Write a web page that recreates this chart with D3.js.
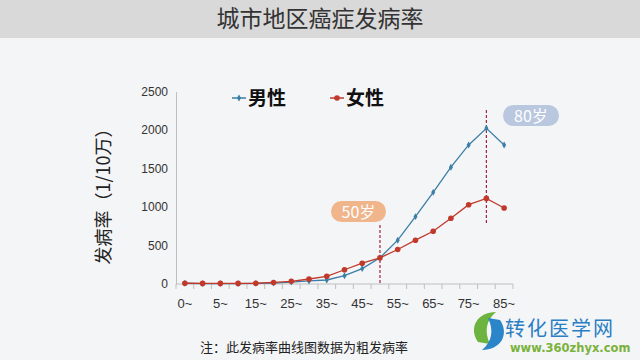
<!DOCTYPE html>
<html><head><meta charset="utf-8">
<script src="https://cdn.jsdelivr.net/npm/d3@7/dist/d3.min.js"></script>
<style>body{margin:0;background:#f4f5f7;}svg{display:block;font-family:"Noto Sans CJK SC","Noto Sans",sans-serif;}</style>
</head><body>
<script>
const categories = ["0~","1~","5~","10~","15~","20~","25~","30~","35~","40~","45~","50~","55~","60~","65~","70~","75~","80~","85~"];
const tickLabels = ["0~","5~","15~","25~","35~","45~","55~","65~","75~","85~"];
const maleValues = [10,5,5,5,8,12,25,40,52,108,200,340,569,875,1190,1517,1806,2022,1806];
const femaleValues = [10,8,8,8,10,20,35,65,100,185,270,340,448,569,685,853,1030,1112,987];
const yTicks = [0,500,1000,1500,2000,2500];

const W=640,H=360;
const svg=d3.select("body").append("svg").attr("width",W).attr("height",H);
svg.append("rect").attr("width",W).attr("height",H).attr("fill","#f4f5f7");
svg.append("rect").attr("width",W).attr("height",38).attr("fill","#d9d9d9");
svg.append("text").attr("x",320).attr("y",27).attr("text-anchor","middle").attr("font-size",23).attr("fill","#333").text("城市地区癌症发病率");

const x=d3.scaleBand().domain(categories).range([176,513]);
const y=d3.scaleLinear().domain([0,2500]).range([284,91.5]);
const cx=c=>x(c)+x.bandwidth()/2;

// y axis
const ya=svg.append("g").attr("transform","translate(176,0)").call(d3.axisLeft(y).tickValues(yTicks).tickFormat(d3.format("d")).tickSize(0).tickPadding(8));
ya.select(".domain").attr("stroke","#bfbfbf");
ya.selectAll("text").attr("font-size",12).attr("fill","#333").attr("font-family","Liberation Sans, Arial, sans-serif");
// x axis
const xa=svg.append("g").attr("transform","translate(0,284)");
xa.append("line").attr("x1",176).attr("x2",513).attr("stroke","#bfbfbf");
xa.selectAll("line.t").data(categories.concat(["_end"])).enter().append("line")
  .attr("x1",(d,i)=>176+i*x.bandwidth()).attr("x2",(d,i)=>176+i*x.bandwidth()).attr("y1",0).attr("y2",5).attr("stroke","#bfbfbf");
xa.selectAll("text").data(tickLabels).enter().append("text").attr("x",d=>cx(d)).attr("y",24)
  .attr("text-anchor","middle").attr("font-size",13).attr("fill","#333").attr("font-family","Liberation Sans, Arial, sans-serif").text(d=>d);

// y label
svg.append("text").attr("transform","translate(110,192) rotate(-90)").attr("text-anchor","middle").attr("font-size",18).attr("fill","#222")
  .text("发病率（1/10万）");

const mc="#3b7ea6", fc="#c0392b";
const line=d3.line().x((d,i)=>cx(categories[i])).y(d=>y(d));
// dashed marker lines
svg.append("line").attr("x1",cx("50~")).attr("x2",cx("50~")).attr("y1",225).attr("y2",284).attr("stroke","#a3243b").attr("stroke-dasharray","3,2").attr("stroke-width",1.2);
svg.append("line").attr("x1",cx("80~")).attr("x2",cx("80~")).attr("y1",110).attr("y2",223).attr("stroke","#a3243b").attr("stroke-dasharray","3,2").attr("stroke-width",1.2);

svg.append("path").datum(maleValues).attr("d",line).attr("fill","none").attr("stroke",mc).attr("stroke-width",1.3);
svg.append("path").datum(femaleValues).attr("d",line).attr("fill","none").attr("stroke",fc).attr("stroke-width",1.3);
svg.selectAll("path.md").data(maleValues).enter().append("path").attr("d",d3.symbol(d3.symbolDiamond,14)())
  .attr("transform",(d,i)=>`translate(${cx(categories[i])},${y(d)})`).attr("fill",mc);
svg.selectAll("circle.fd").data(femaleValues).enter().append("circle").attr("cx",(d,i)=>cx(categories[i])).attr("cy",d=>y(d)).attr("r",2.8).attr("fill",fc);

// pills
svg.append("rect").attr("x",331).attr("y",201).attr("width",55).attr("height",21).attr("rx",10.5).attr("fill","#f0b58b");
svg.append("text").attr("x",358.5).attr("y",217.5).attr("text-anchor","middle").attr("font-size",16).attr("fill","#fff").text("50岁");
svg.append("rect").attr("x",503).attr("y",105).attr("width",56).attr("height",21).attr("rx",10.5).attr("fill","#b9c7df");
svg.append("text").attr("x",531).attr("y",121.5).attr("text-anchor","middle").attr("font-size",16).attr("fill","#fff").text("80岁");

// legend
const lg=[{t:"男性",c:mc,x:232,s:"d"},{t:"女性",c:fc,x:330,s:"c"}];
lg.forEach(l=>{
  svg.append("line").attr("x1",l.x).attr("x2",l.x+14).attr("y1",98).attr("y2",98).attr("stroke",l.c).attr("stroke-width",1.5);
  if(l.s==="d") svg.append("path").attr("d",d3.symbol(d3.symbolDiamond,14)()).attr("transform",`translate(${l.x+7},98)`).attr("fill",l.c);
  else svg.append("circle").attr("cx",l.x+7).attr("cy",98).attr("r",2.8).attr("fill",l.c);
  svg.append("text").attr("x",l.x+16).attr("y",105).attr("font-size",19).attr("font-weight","bold").attr("fill","#111").text(l.t);
});

// footnote
svg.append("text").attr("x",200).attr("y",352).attr("font-size",13).attr("fill","#222").text("注：此发病率曲线图数据为粗发病率");

// watermark
const wm=svg.append("g");
wm.append("path").attr("d","M478,342 C468,327 478,312 496,312 C486,320 484,332 490,344 Z").attr("fill","#6cb33f");
wm.append("path").attr("d","M500,320 C510,335 500,350 482,350 C492,342 494,330 488,318 Z").attr("fill","#2a86c8");
wm.append("text").attr("x",505).attr("y",336).attr("font-size",20).attr("fill","#2a7fc4").attr("letter-spacing",2).text("转化医学网");
wm.append("text").attr("x",510).attr("y",352).attr("font-size",11.5).attr("font-weight","bold").attr("fill","#7ab23c").attr("font-family","DejaVu Sans, sans-serif").text("www.360zhyx.com");
</script>
</body></html>
